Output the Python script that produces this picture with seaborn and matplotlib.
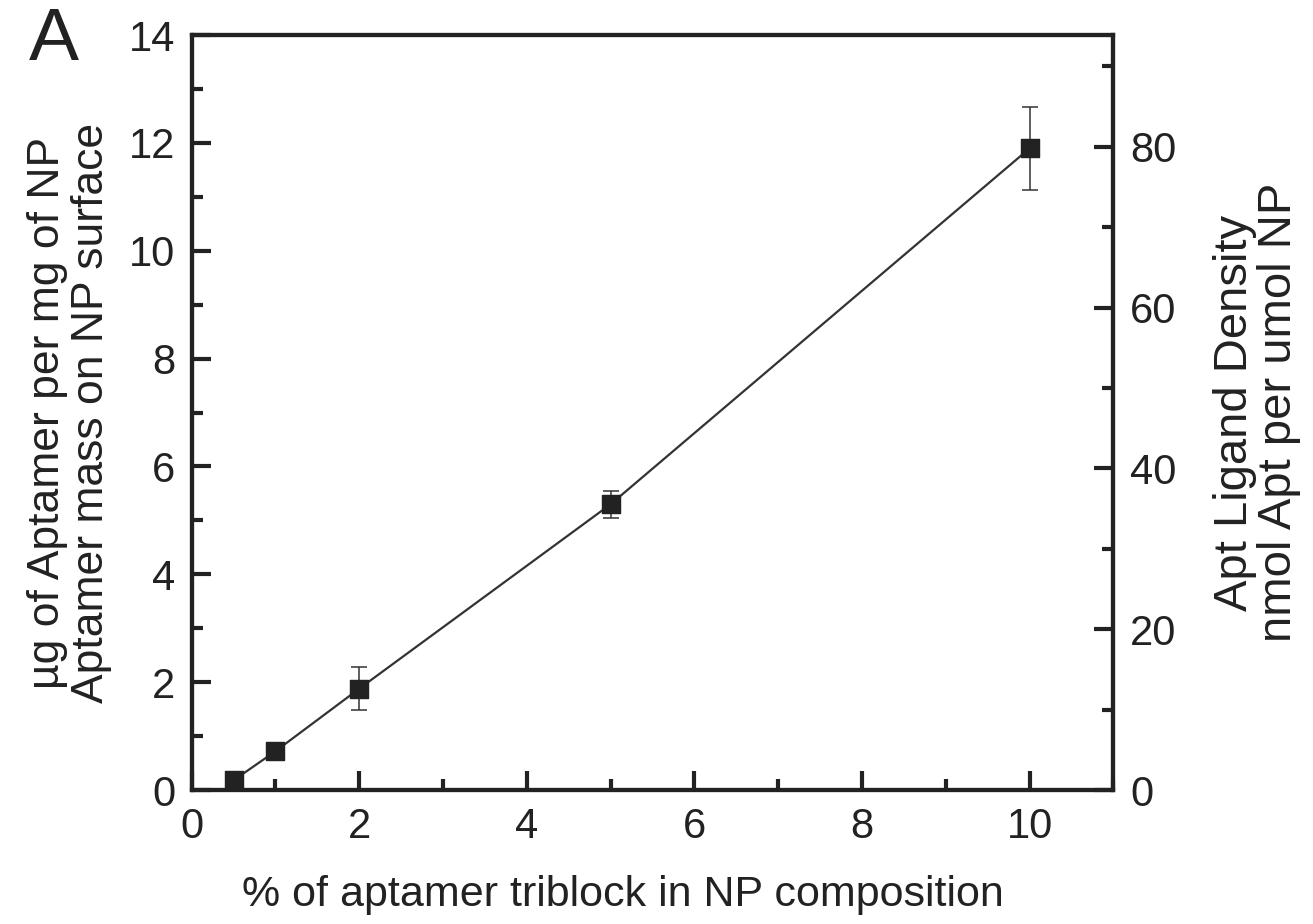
import numpy as np
import pandas as pd
import seaborn as sns
import matplotlib.pyplot as plt
from matplotlib.ticker import MultipleLocator

# data
pct = [0.5, 1, 2, 5, 10]
mass = [0.18, 0.72, 1.88, 5.3, 11.9]
err = [0.0, 0.0, 0.4, 0.25, 0.77]

df = pd.DataFrame({"pct": pct, "mass": mass, "err": err})

sns.set_style("ticks")
plt.rcParams['font.family'] = ['Liberation Sans', 'DejaVu Sans']
plt.rcParams['font.size'] = 30

fig = plt.figure(figsize=(13.13, 9.24), dpi=100)
ax = fig.add_axes([0.146, 0.145, 0.702, 0.817])

ax.errorbar(df["pct"], df["mass"], yerr=df["err"], fmt="none",
            ecolor="#333333", elinewidth=1.1, capsize=6, capthick=1.1, zorder=2)
sns.lineplot(data=df, x="pct", y="mass", ax=ax, color="#333333",
             linewidth=1.6, zorder=3)
sns.scatterplot(data=df, x="pct", y="mass", ax=ax, marker="s", s=160,
                color="#222222", edgecolor="#222222", zorder=4)

ax.set_xlim(0, 11)
ax.set_ylim(0, 14)
ax.xaxis.set_major_locator(MultipleLocator(2))
ax.xaxis.set_minor_locator(MultipleLocator(1))
ax.yaxis.set_major_locator(MultipleLocator(2))
ax.yaxis.set_minor_locator(MultipleLocator(1))
ax.tick_params(which="both", direction="in", colors="#222222", width=3,
               labelsize=30, pad=12, top=False, right=False)
ax.tick_params(which="major", length=14)
ax.tick_params(which="minor", length=8)
for s in ax.spines.values():
    s.set_linewidth(3)
    s.set_color("#222222")

ax.set_xlabel("% of aptamer triblock in NP composition", fontsize=31,
              color="#222222")
ax.xaxis.set_label_coords(0.468, -0.113)
ax.set_ylabel("µg of Aptamer per mg of NP\nAptamer mass on NP surface",
              fontsize=32, labelpad=12, color="#222222", linespacing=1.1)

ratio = 80 / 11.93
ax2 = ax.twinx()
ax2.set_ylim(0, 14 * ratio)
ax2.yaxis.set_major_locator(MultipleLocator(20))
ax2.yaxis.set_minor_locator(MultipleLocator(10))
ax2.tick_params(which="both", direction="in", colors="#222222", width=3,
                labelsize=30, pad=12)
ax2.tick_params(which="major", length=14)
ax2.tick_params(which="minor", length=8)
for s in ax2.spines.values():
    s.set_linewidth(3)
    s.set_color("#222222")
ax2.set_ylabel("Apt Ligand Density\nnmol Apt per umol NP", fontsize=34,
               rotation=90, labelpad=26, color="#222222", linespacing=1.0)

fig.text(0.022, 0.935, "A", fontsize=54, color="#222222")

fig.savefig("out.png", dpi=100)
